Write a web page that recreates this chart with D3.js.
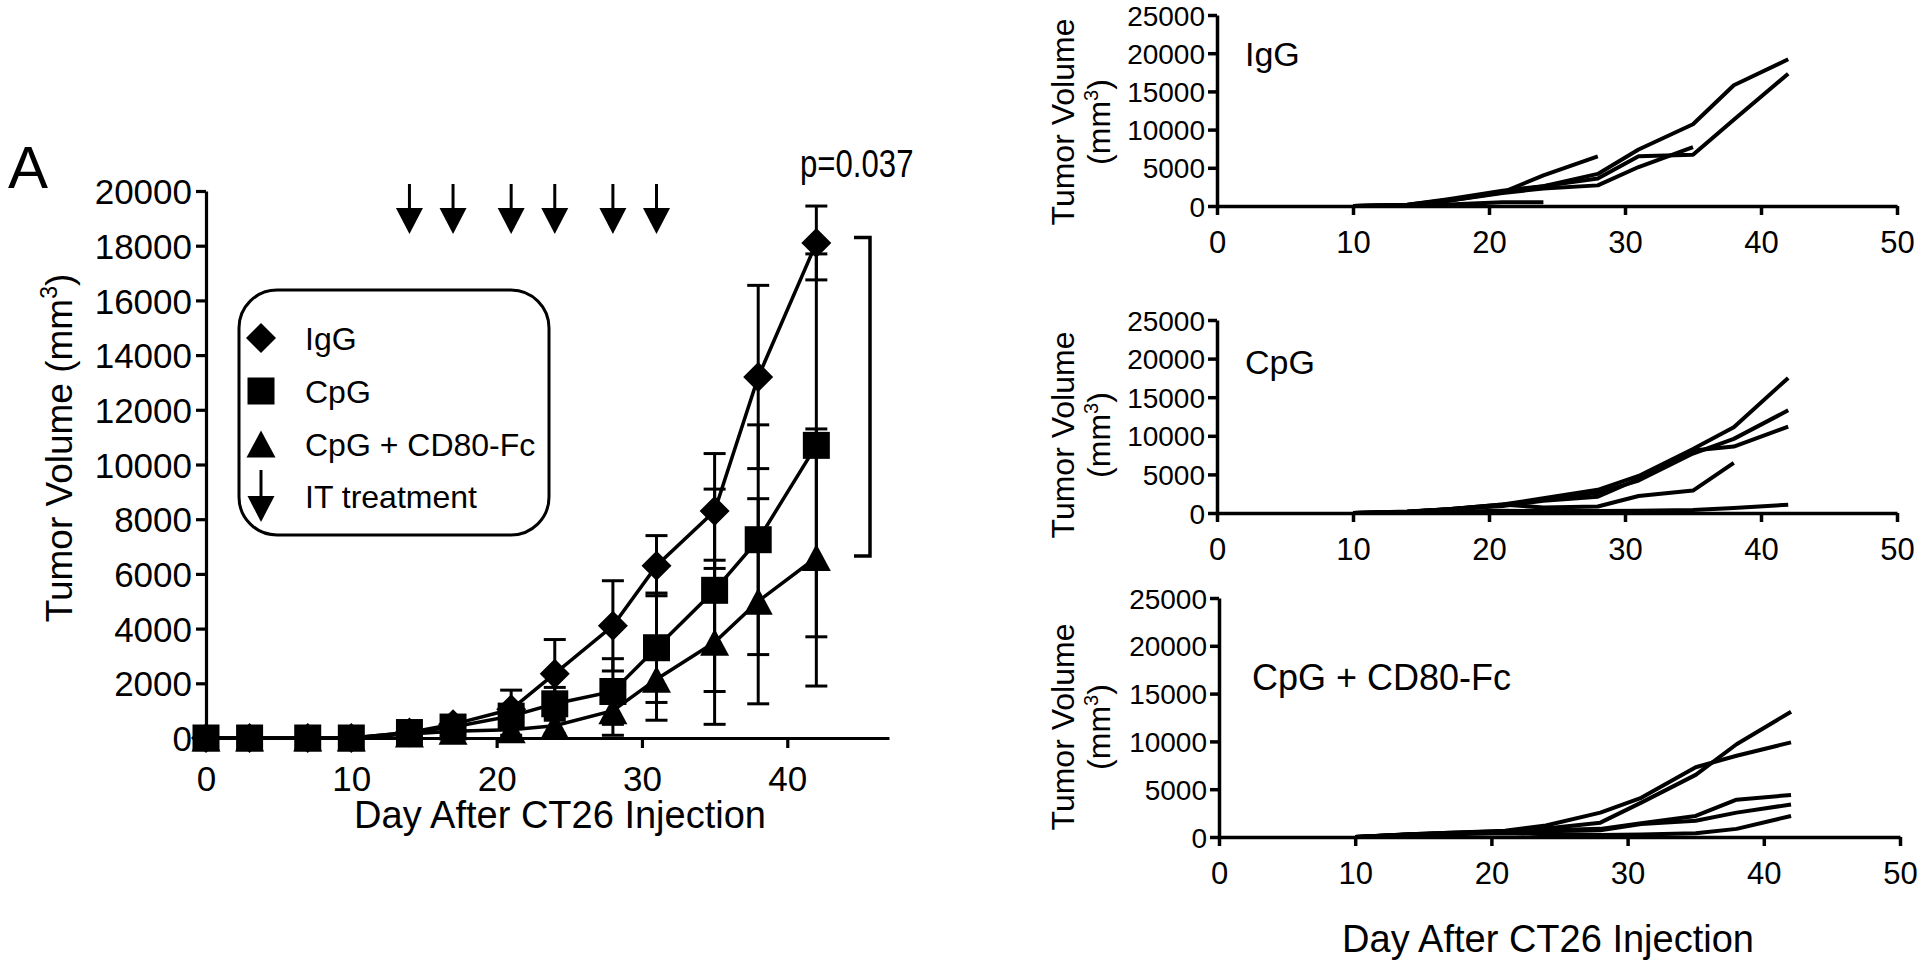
<!DOCTYPE html>
<html><head><meta charset="utf-8">
<script src="https://cdn.jsdelivr.net/npm/d3@7/dist/d3.min.js"></script>
<style>
html,body{margin:0;padding:0;background:#fff;}
svg text{font-family:"Liberation Sans",Arial,sans-serif;fill:#000;}
</style></head>
<body>
<script>
// ---------- DATA ----------
const days = [0,3,7,10,14,17,21,24,28,31,35,38,42];
const iggMean  = [0,0,0,0,200,500,1050,2350,4100,6300,8300,13200,18100];
const iggErr   = [0,0,0,0,0,150,700,1250,1650,1100,2100,3350,1350];
const cpgMean  = [0,0,0,0,200,400,800,1250,1700,3300,5400,7250,10700];
const cpgErr   = [0,0,0,0,0,100,350,600,1200,2000,3700,4200,7000];
const cd80Mean = [0,0,0,0,150,250,300,450,1000,2150,3500,5000,6600];
const cd80Err  = [0,0,0,0,0,80,200,300,900,1500,3000,3750,4700];
const treatmentDays = [14,17,21,24,28,31];
const bracketRange = [18300,6650];
const pValueLabel = "p=0.037";
const mainYTicks = [0,2000,4000,6000,8000,10000,12000,14000,16000,18000,20000];
const mainXTicks = [0,10,20,30,40];
const legendLabels = ["IgG","CpG","CpG + CD80-Fc","IT treatment"];

const mouseDays = [10,14,17,21,24,28,31,35,38,42];
const iggMice = [
  [0,150,800,1800,4000,6500,null,null,null,null],
  [0,150,900,2000,2600,4200,7400,10700,15800,19200],
  [0,100,700,1700,2300,2700,5100,7700,null,null],
  [0,100,700,1800,2600,3600,6500,6700,11300,17300],
  [0,50,200,500,500,null,null,null,null,null]
];
const cpgMice = [
  [0,200,500,1100,1900,3000,4800,8300,11100,17500],
  [0,150,500,1000,1800,2600,4200,7700,9600,13300],
  [0,150,450,900,1600,2100,4400,8100,8600,11200],
  [0,150,500,1100,700,850,2200,2900,6500,null],
  [0,50,150,300,250,250,300,400,640,1070]
];
const cd80Mice = [
  [0,300,450,600,900,1500,3600,6500,9700,13100],
  [0,300,450,650,1200,2550,4100,7300,8500,9900],
  [0,250,400,550,700,850,1450,2200,3900,4400],
  [0,250,400,500,600,700,1350,1700,2550,3400],
  [0,200,300,400,300,200,250,400,850,2200]
];
const panelLabels = ["IgG","CpG","CpG + CD80-Fc"];
const panelYTicks = [0,5000,10000,15000,20000,25000];
const panelXTicks = [0,10,20,30,40,50];
const yTitle = "Tumor Volume";
const xTitle = "Day After CT26 Injection";

// ---------- DRAW ----------
const W = 1920, H = 961;
const svg = d3.select("body").append("svg").attr("width", W).attr("height", H);
const fmt = d3.format("d");

function diamondPath(r){ return `M0,${-r}L${r},0L0,${r}L${-r},0Z`; }
function squarePath(s){ const h=s/2; return `M${-h},${-h}H${h}V${h}H${-h}Z`; }
function trianglePath(w,h){ return `M0,${-h/2}L${w/2},${h/2}L${-w/2},${h/2}Z`; }
const markerShapes = [diamondPath(15), squarePath(27), trianglePath(29,27)];

// Main chart
const xM = d3.scaleLinear().domain([0,47]).range([206,889]);
const yM = d3.scaleLinear().domain([0,20000]).range([738,191]);

const gM = svg.append("g");
const yAxM = d3.axisLeft(yM).tickValues(mainYTicks).tickFormat(fmt).tickSize(10).tickSizeOuter(0).tickPadding(4);
const gy = gM.append("g").attr("transform",`translate(${xM(0)},0)`).call(yAxM);
const xAxM = d3.axisBottom(xM).tickValues(mainXTicks).tickFormat(fmt).tickSize(10).tickSizeOuter(0).tickPadding(18);
const gx = gM.append("g").attr("transform",`translate(0,${yM(0)})`).call(xAxM);
[gy,gx].forEach(g=>{
  g.select(".domain").attr("stroke","#000").attr("stroke-width",3.2);
  g.selectAll(".tick line").attr("stroke","#000").attr("stroke-width",3.2);
  g.selectAll(".tick text").attr("font-size",35).attr("font-family",null);
});
gx.selectAll(".tick text").attr("dy","0.71em");
gy.selectAll(".tick text").attr("dy","0.36em");

// axis titles
gM.append("text").attr("transform",`translate(72,448) rotate(-90)`)
  .attr("text-anchor","middle").attr("font-size",37)
  .call(t=>{ t.append("tspan").text("Tumor Volume (mm");
             t.append("tspan").attr("dy",-15).attr("font-size",23).text("3");
             t.append("tspan").attr("dy",15).text(")"); });
gM.append("text").attr("x",560).attr("y",828).attr("text-anchor","middle").attr("font-size",38).text(xTitle);
svg.append("text").attr("x",8).attr("y",188).attr("font-size",60).text("A");

// series
const seriesMeans = [iggMean, cpgMean, cd80Mean];
const seriesErrs = [iggErr, cpgErr, cd80Err];
const line = d3.line().x(d=>xM(d[0])).y(d=>yM(d[1]));
seriesMeans.forEach((means,si)=>{
  const errs = seriesErrs[si];
  const gs = gM.append("g");
  days.forEach((d,i)=>{
    if(!errs[i]) return;
    const x = xM(d), y1 = yM(means[i]+errs[i]), y0 = yM(Math.max(0,means[i]-errs[i]));
    gs.append("line").attr("x1",x).attr("x2",x).attr("y1",y1).attr("y2",y0).attr("stroke","#000").attr("stroke-width",3);
    [y1,y0].forEach(yy=>gs.append("line").attr("x1",x-11).attr("x2",x+11).attr("y1",yy).attr("y2",yy).attr("stroke","#000").attr("stroke-width",3));
  });
  gs.append("path").datum(days.map((d,i)=>[d,means[i]])).attr("d",line)
    .attr("fill","none").attr("stroke","#000").attr("stroke-width",3.5);
  gs.selectAll("path.mk").data(days.map((d,i)=>[d,means[i]])).join("path").attr("class","mk")
    .attr("transform",d=>`translate(${xM(d[0])},${yM(d[1])})`).attr("d",markerShapes[si]).attr("fill","#000");
});

// treatment arrows
function drawArrow(g, x, yTop, yBot){
  const headH = 26, headW = 27;
  g.append("line").attr("x1",x).attr("x2",x).attr("y1",yTop).attr("y2",yBot-headH+2).attr("stroke","#000").attr("stroke-width",3);
  g.append("path").attr("d",`M${x-headW/2},${yBot-headH}L${x+headW/2},${yBot-headH}L${x},${yBot}Z`).attr("fill","#000");
}
treatmentDays.forEach(d=>drawArrow(gM, xM(d), 184, 234));

// bracket + p value
const bx = 870;
gM.append("path").attr("d",`M${bx-16},${yM(bracketRange[0])}H${bx}V${yM(bracketRange[1])}H${bx-16}`)
  .attr("fill","none").attr("stroke","#000").attr("stroke-width",3.5);
gM.append("text").attr("transform","translate(800,177) scale(0.82,1)").attr("font-size",38).text(pValueLabel);

// legend
const lg = gM.append("g");
lg.append("rect").attr("x",239).attr("y",290).attr("width",310).attr("height",245).attr("rx",38).attr("ry",38)
  .attr("fill","#fff").attr("stroke","#000").attr("stroke-width",3);
const legY = [338,391,444,496];
legendLabels.forEach((lab,i)=>{
  if(i<3) lg.append("path").attr("transform",`translate(261,${legY[i]})`).attr("d",markerShapes[i]).attr("fill","#000");
  else drawArrow(lg, 261, legY[i]-26, legY[i]+26);
  lg.append("text").attr("x",305).attr("y",legY[i]).attr("dy","0.36em").attr("font-size",32).text(lab);
});

// ---------- right panels ----------
const panels = [
  {mice: iggMice, xr:[1217,1897], yr:[206,15], titleY:122, labelPos:[1245,66]},
  {mice: cpgMice, xr:[1217,1897], yr:[513,320], titleY:435, labelPos:[1245,374]},
  {mice: cd80Mice, xr:[1219,1900], yr:[837,598], titleY:727, labelPos:[1252,690]}
];
panels.forEach((p,pi)=>{
  const x = d3.scaleLinear().domain([0,50]).range(p.xr);
  const y = d3.scaleLinear().domain([0,25000]).range(p.yr);
  const g = svg.append("g");
  const ga = g.append("g").attr("transform",`translate(${x(0)},0)`)
    .call(d3.axisLeft(y).tickValues(panelYTicks).tickFormat(fmt).tickSize(9).tickSizeOuter(0).tickPadding(3));
  const gb = g.append("g").attr("transform",`translate(0,${y(0)})`)
    .call(d3.axisBottom(x).tickValues(panelXTicks).tickFormat(fmt).tickSize(9).tickSizeOuter(0).tickPadding(16));
  [ga,gb].forEach(a=>{
    a.select(".domain").attr("stroke","#000").attr("stroke-width",3.5);
    a.selectAll(".tick line").attr("stroke","#000").attr("stroke-width",3.5);
    a.selectAll(".tick text").attr("font-family",null);
  });
  ga.selectAll(".tick text").attr("font-size",28).attr("dy","0.36em");
  gb.selectAll(".tick text").attr("font-size",31).attr("dy","0.71em");
  g.append("text").attr("transform",`translate(1074,${p.titleY}) rotate(-90)`).attr("text-anchor","middle")
    .attr("font-size",32).text(yTitle);
  g.append("text").attr("transform",`translate(1110,${p.titleY}) rotate(-90)`).attr("text-anchor","middle")
    .attr("font-size",32)
    .call(t=>{ t.append("tspan").text("(mm");
               t.append("tspan").attr("dy",-12).attr("font-size",20).text("3");
               t.append("tspan").attr("dy",12).text(")"); });
  const ln = d3.line().defined(d=>d[1]!==null).x(d=>x(d[0])).y(d=>y(d[1]));
  p.mice.forEach(m=>{
    g.append("path").datum(mouseDays.map((d,i)=>[d,m[i]])).attr("d",ln)
      .attr("fill","none").attr("stroke","#000").attr("stroke-width",4).attr("stroke-linejoin","round");
  });
  g.append("text").attr("x",p.labelPos[0]).attr("y",p.labelPos[1]).attr("font-size",pi===2?36:34).text(panelLabels[pi]);
});
svg.append("text").attr("x",1548).attr("y",952).attr("text-anchor","middle").attr("font-size",38).text(xTitle);
</script>
</body></html>
